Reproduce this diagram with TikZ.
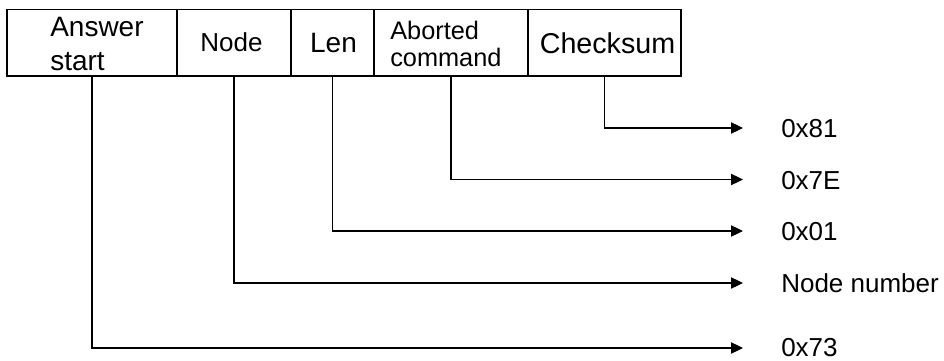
\documentclass[tikz,border=0pt]{standalone}
\usepackage{fontspec}
\setmainfont{Liberation Sans}
\usetikzlibrary{arrows.meta}
\begin{document}
\begin{tikzpicture}[x=0.75pt,y=-0.75pt,
  field/.style={draw=black, line width=0.8pt, rectangle, inner sep=0pt, minimum height=66.5*0.75pt},
  txt/.style={inner sep=0pt, text=black},
  conn/.style={draw=black, line width=0.8pt, -{Triangle[length=9pt,width=8.5pt]}},
  lab/.style={inner sep=0pt, anchor=base west, font=\fontsize{19.5}{23}\selectfont}]
\useasboundingbox (0,0) rectangle (944,360);
% fields
\node[field, minimum width=170*0.75pt] (fans) at (92,42.75) {};
\node[field, minimum width=114*0.75pt] (fnode) at (234,42.75) {};
\node[field, minimum width=83*0.75pt] (flen) at (332.5,42.75) {};
\node[field, minimum width=154*0.75pt] (fabt) at (451,42.75) {};
\node[field, minimum width=153*0.75pt] (fchk) at (604.5,42.75) {};
% field texts
\node[txt, anchor=base west, align=left, font=\fontsize{21}{24.75}\selectfont] (tans) at (50,70) {Answer\\start};
\node[txt, anchor=base, font=\fontsize{19.5}{23}\selectfont] (tnode) at (231.5,52) {Node};
\node[txt, anchor=base, font=\fontsize{21}{24}\selectfont] (tlen) at (333.5,53) {Len};
\node[txt, anchor=base west, align=left, font=\fontsize{19}{20.25}\selectfont] (tabt) at (390,66) {Aborted\\command};
\node[txt, anchor=base, font=\fontsize{21.5}{24}\selectfont] (tchk) at (607.5,54) {Checksum};
% arrow tips
\coordinate (e1) at (743,128);
\coordinate (e2) at (743,179.5);
\coordinate (e3) at (743,231);
\coordinate (e4) at (743,283);
\coordinate (e5) at (743,348);
% labels
\node[lab] (l1) at (781,137.5) {0x81};
\node[lab] (l2) at (781,189) {0x7E};
\node[lab] (l3) at (781,240.5) {0x01};
\node[lab] (l4) at (781,292.5) {Node number};
\node[lab] (l5) at (781,356.5) {0x73};
% connectors
\draw[conn] (fchk.south) |- (e1);
\draw[conn] (fabt.south) |- (e2);
\draw[conn] (flen.south) |- (e3);
\draw[conn] (fnode.south) |- (e4);
\draw[conn] (fans.south) |- (e5);
\end{tikzpicture}
\end{document}
